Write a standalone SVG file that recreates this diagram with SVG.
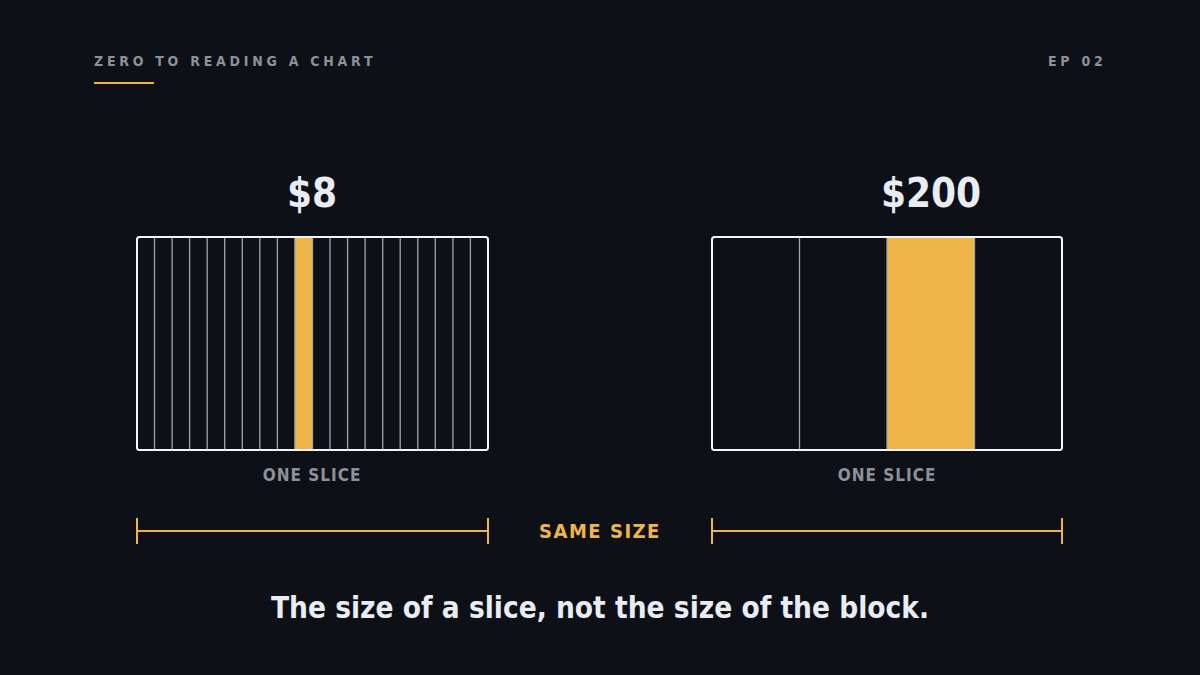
<svg xmlns="http://www.w3.org/2000/svg" width="1200" height="675" viewBox="0 0 1200 675">
<style>
.t{font-family:"DejaVu Sans Condensed","DejaVu Sans","Liberation Sans Narrow",sans-serif;font-stretch:condensed}
.hdr{font-size:14px;fill:#8c919a;letter-spacing:3.75px;font-weight:bold}
.price{font-size:40px;font-weight:bold;fill:#e8ecf3;text-anchor:middle}
.lbl{font-size:17px;fill:#8c919a;text-anchor:middle;letter-spacing:1px;font-weight:bold}
.same{font-size:20px;fill:#eeb648;text-anchor:middle;letter-spacing:1.5px;font-weight:bold}
.cap{font-size:29.5px;font-weight:bold;fill:#e8ecf3;text-anchor:middle}
.box{fill:none;stroke:#f2f4f7;stroke-width:2}
.div{stroke:#a0a5ad;stroke-width:1.3}
.y{fill:#eeb648}
.dim{stroke:#eeb648;stroke-width:2;fill:none}
</style>
<rect width="1200" height="675" fill="#0d1017"/>
<g id="header">
<text class="t hdr" x="94" y="66">ZERO TO READING A CHART</text>
<rect x="94" y="82" width="60" height="2" class="y"/>
<text class="t hdr" x="1048" y="66">EP 02</text>
</g>
<g id="block-8">
<text class="t price" x="312" y="207">$8</text>
<rect x="295" y="238" width="17.5" height="211" class="y"/>
<g class="div">
<line x1="154.5" y1="238" x2="154.5" y2="449"/>
<line x1="172.1" y1="238" x2="172.1" y2="449"/>
<line x1="189.6" y1="238" x2="189.6" y2="449"/>
<line x1="207.2" y1="238" x2="207.2" y2="449"/>
<line x1="224.7" y1="238" x2="224.7" y2="449"/>
<line x1="242.3" y1="238" x2="242.3" y2="449"/>
<line x1="259.8" y1="238" x2="259.8" y2="449"/>
<line x1="277.4" y1="238" x2="277.4" y2="449"/>
<line x1="294.9" y1="238" x2="294.9" y2="449"/>
<line x1="312.5" y1="238" x2="312.5" y2="449"/>
<line x1="330.0" y1="238" x2="330.0" y2="449"/>
<line x1="347.6" y1="238" x2="347.6" y2="449"/>
<line x1="365.1" y1="238" x2="365.1" y2="449"/>
<line x1="382.7" y1="238" x2="382.7" y2="449"/>
<line x1="400.2" y1="238" x2="400.2" y2="449"/>
<line x1="417.8" y1="238" x2="417.8" y2="449"/>
<line x1="435.3" y1="238" x2="435.3" y2="449"/>
<line x1="452.9" y1="238" x2="452.9" y2="449"/>
<line x1="470.4" y1="238" x2="470.4" y2="449"/>
</g>
<rect x="137" y="237" width="351" height="213" rx="2.5" class="box"/>
<text class="t lbl" x="312" y="481">ONE SLICE</text>
</g>
<g id="block-200">
<text class="t price" x="931" y="207">$200</text>
<rect x="887" y="238" width="87.5" height="211" class="y"/>
<g class="div">
<line x1="799.5" y1="238" x2="799.5" y2="449"/>
<line x1="887" y1="238" x2="887" y2="449"/>
<line x1="974.5" y1="238" x2="974.5" y2="449"/>
</g>
<rect x="712" y="237" width="350" height="213" rx="2.5" class="box"/>
<text class="t lbl" x="887" y="481">ONE SLICE</text>
</g>
<g id="connectors">
<path class="dim" d="M137 531H488M137 518V544M488 518V544"/>
<path class="dim" d="M712 531H1062M712 518V544M1062 518V544"/>
</g>
<g id="same-size">
<text class="t same" x="600" y="538">SAME SIZE</text>
</g>
<g id="caption">
<text class="t cap" x="600" y="618">The size of a slice, not the size of the block.</text>
</g>
</svg>
